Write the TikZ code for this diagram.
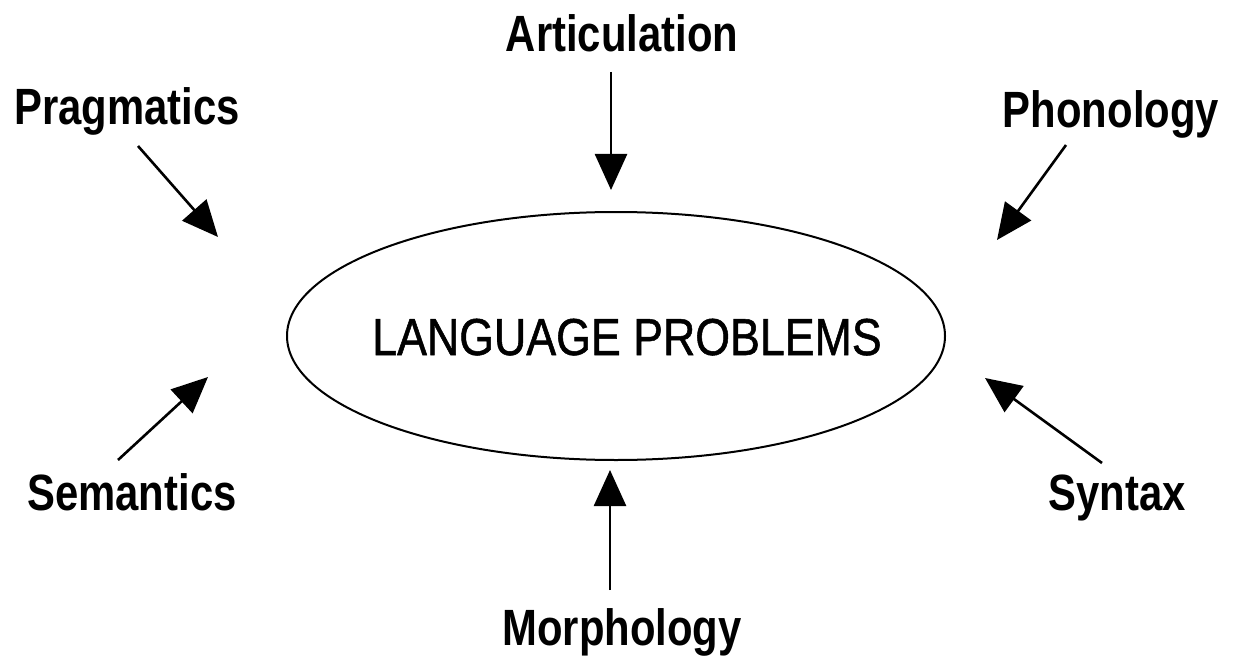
\documentclass[tikz,border=0pt]{standalone}
\usepackage{fontspec}
\setmainfont{Liberation Sans}
\newfontfamily\labfont[FakeStretch=0.82]{Liberation Sans}
\newfontfamily\cenfont[FakeStretch=0.86,FakeBold=1]{Liberation Sans}
\usetikzlibrary{shapes.geometric,arrows.meta}
\begin{document}
\begin{tikzpicture}[x=1pt,y=-1pt,
  lab/.style={anchor=base,inner sep=0pt,font=\labfont\bfseries\fontsize{51}{51}\selectfont},
  arr/.style={line width=2.6pt,-{Triangle[length=36pt,width=32pt]}}]
\useasboundingbox (0,0) rectangle (1241,663);
\node[draw,ellipse,line width=2pt,minimum width=658pt,minimum height=248pt,inner sep=0pt] (lp) at (616,336) {};
\node[anchor=base,inner sep=0pt,font=\cenfont\fontsize{52}{52}\selectfont] (lpt) at (627,355) {LANGUAGE PROBLEMS};
\node[lab] (art) at (622,52) {Articulation};
\node[lab] (prag) at (127,125) {Pragmatics};
\node[lab] (phon) at (1111,128) {Phonology};
\node[lab] (sem) at (132,510) {Semantics};
\node[lab] (syn) at (1117,510) {Syntax};
\node[lab] (mor) at (622,645) {Morphology};
\coordinate (artS) at (611,72);   \coordinate (artT) at (611,190);
\coordinate (pragS) at (138,146); \coordinate (pragT) at (218,237);
\coordinate (phonS) at (1066,145);\coordinate (phonT) at (997,240);
\coordinate (semS) at (118,460);  \coordinate (semT) at (208,377);
\coordinate (synS) at (1102,463); \coordinate (synT) at (985,378);
\coordinate (morS) at (610,590);  \coordinate (morT) at (610,470);
\draw[arr] (artS) -- (artT);
\draw[arr] (pragS) -- (pragT);
\draw[arr] (phonS) -- (phonT);
\draw[arr] (semS) -- (semT);
\draw[arr] (synS) -- (synT);
\draw[arr] (morS) -- (morT);
\end{tikzpicture}
\end{document}
